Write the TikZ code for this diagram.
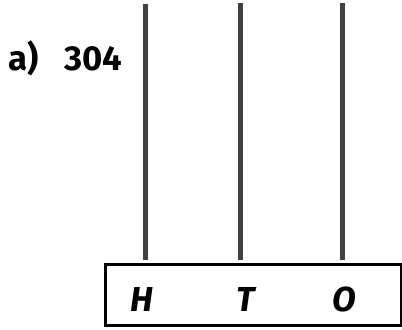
\documentclass[tikz,border=0pt]{standalone}
\usepackage{fontspec}
\setmainfont{Fira Sans}
\usetikzlibrary{positioning}
\tikzset{
  rod/.style={line width=3.75pt,draw=black!75,shorten >=2.6pt},
  placebox/.style={draw=black,line width=2.25pt,minimum width=222pt,minimum height=45.75pt,inner sep=0pt},
  placelbl/.style={anchor=base,font=\fontsize{26}{26}\selectfont\bfseries\itshape,inner sep=0pt},
  qlbl/.style={anchor=base west,font=\fontsize{26}{26}\selectfont\bfseries,inner sep=0pt}
}
\begin{document}
\begin{tikzpicture}[x=0.75pt,y=-0.75pt]
\useasboundingbox (0,0) rectangle (402,329);
% place value chart
\node[placebox] (pv) at (253.5,295) {};
\node[placelbl] (hh) at (142,311) {H};
\node[placelbl] (tt) at (246,311) {T};
\node[placelbl] (oo) at (344,311) {O};
% question
\node[qlbl] (qa) at (8,70) {a)};
\node[qlbl] (qn) at (64,70) {304};
% rods
\coordinate (rh) at (145,4);
\coordinate (rt) at (240,3);
\coordinate (ro) at (342,3);
\draw[rod] (rh)--(rh |- pv.north);
\draw[rod] (rt)--(rt |- pv.north);
\draw[rod] (ro)--(ro |- pv.north);
\end{tikzpicture}
\end{document}
